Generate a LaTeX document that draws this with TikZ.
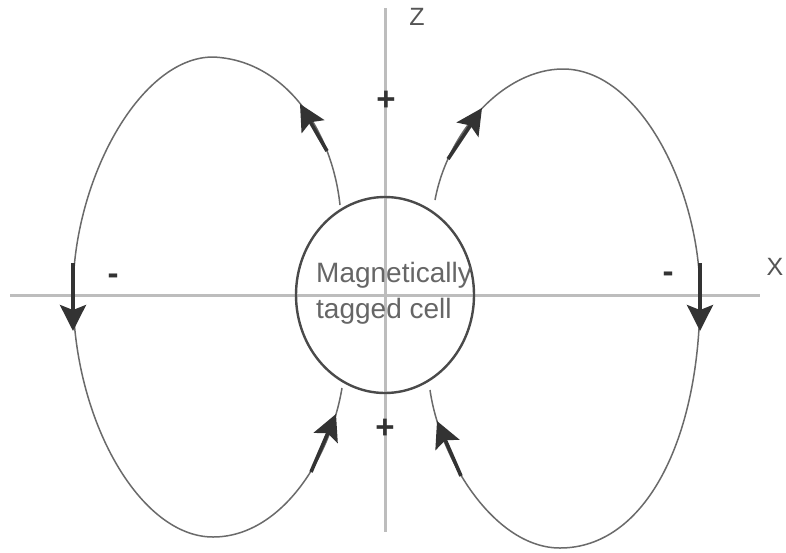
\documentclass[tikz,border=0pt]{standalone}
\usepackage{fontspec}
\setmainfont{Liberation Sans}
\usetikzlibrary{arrows.meta,shapes.geometric}
\definecolor{axisgray}{HTML}{BDBDBD}
\definecolor{fieldgray}{HTML}{6A6A6A}
\definecolor{cellgray}{HTML}{4A4A4A}
\definecolor{arrowdark}{HTML}{333333}
\definecolor{labelgray}{HTML}{555555}
\definecolor{textgray}{HTML}{666666}
\begin{document}
\begin{tikzpicture}[x=1pt,y=-1pt,
  axis/.style={draw=axisgray,line width=3pt},
  field/.style={draw=fieldgray,line width=1.5pt},
  cellline/.style={draw=cellgray,line width=2.4pt},
  arr/.style={draw=arrowdark,line width=3.6pt,-{Stealth[length=26pt,width=26pt,inset=5pt]}},
  lbl/.style={text=labelgray,font=\fontsize{25}{30}\selectfont,inner sep=0pt},
  sign/.style={text=arrowdark,font=\bfseries\fontsize{33}{36}\selectfont,inner sep=0pt},
  celltext/.style={text=textgray,font=\fontsize{28}{36}\selectfont,align=left,inner sep=0pt}]
\useasboundingbox[fill=white] (0,0) rectangle (786,552);
% axes
\coordinate (zt) at (385,8);
\coordinate (zb) at (385,532);
\coordinate (xl) at (10,295);
\coordinate (xr) at (760,295);
\draw[axis] (zt) -- (zb);
\draw[axis] (xl) -- (xr);
% left loop
\coordinate (lA) at (340,205);
\coordinate (lT) at (213,57);
\coordinate (lL) at (73,293);
\coordinate (lB) at (213,537);
\coordinate (lC) at (342,388);
\draw[field] (lA) .. controls (332,130) and (285,60) .. (lT)
  .. controls (140,57) and (73,180) .. (lL)
  .. controls (73,420) and (140,537) .. (lB)
  .. controls (280,537) and (330,460) .. (lC);
% right loop
\coordinate (rA) at (435,200);
\coordinate (rT) at (563,69);
\coordinate (rR) at (700,295);
\coordinate (rB) at (560,548);
\coordinate (rC) at (430,390);
\draw[field] (rA) .. controls (448,130) and (505,69) .. (rT)
  .. controls (640,69) and (700,190) .. (rR)
  .. controls (700,440) and (645,548) .. (rB)
  .. controls (495,548) and (440,460) .. (rC);
% arrows (shafts lie on the field lines)
\coordinate (a1s) at (327,151); \coordinate (a1e) at (300,104);
\coordinate (a2s) at (448,159); \coordinate (a2e) at (482,108);
\coordinate (a3s) at (73,263);  \coordinate (a3e) at (73,331);
\coordinate (a4s) at (700,263); \coordinate (a4e) at (700,331);
\coordinate (a5s) at (311,472); \coordinate (a5e) at (336,414);
\coordinate (a6s) at (461,476); \coordinate (a6e) at (437,421);
\draw[arr] (a1s) -- (a1e);
\draw[arr] (a2s) -- (a2e);
\draw[arr] (a3s) -- (a3e);
\draw[arr] (a4s) -- (a4e);
\draw[arr] (a5s) -- (a5e);
\draw[arr] (a6s) -- (a6e);
% cell
\node[cellline,ellipse,minimum width=178pt,minimum height=196pt,inner sep=0pt] (cell) at (385,295) {};
\node[celltext,anchor=base west] (celllabel) at (316,318) {Magnetically\\tagged cell};
% labels
\node[lbl] (zlabel) at (417,17) {Z};
\node[lbl] (xlabel) at (775,267) {X};
\node[sign] (ptop) at (386,101) {+};
\node[sign] (pbot) at (385,429) {+};
\node[sign] (mleft) at (113,279) {-};
\node[sign] (mright) at (668,277) {-};
\end{tikzpicture}
\end{document}
